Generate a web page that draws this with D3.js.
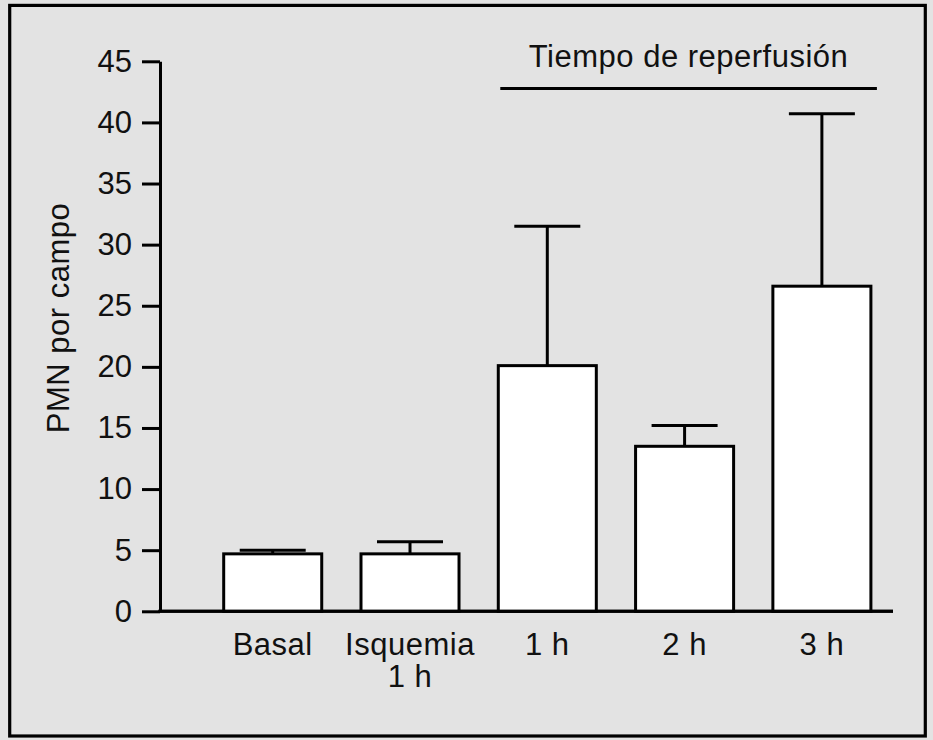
<!DOCTYPE html>
<html>
<head>
<meta charset="utf-8">
<script src="https://cdn.jsdelivr.net/npm/d3@7"></script>
<style>
  body { margin: 0; background: #e3e3e3; }
  svg { display: block; }
  text { font-family: "Liberation Sans", Arial, Helvetica, sans-serif; fill: #111; }
</style>
</head>
<body>
<div id="container"></div>
<script>
// Data
const categories = ["Basal", "Isquemia 1 h", "1 h", "2 h", "3 h"];
const categoryLines = [["Basal"], ["Isquemia", "1 h"], ["1 h"], ["2 h"], ["3 h"]];
const means = [4.7, 4.7, 20.1, 13.5, 26.6];
const errors = [0.3, 1.0, 11.4, 1.7, 14.1];
const yTicks = [0, 5, 10, 15, 20, 25, 30, 35, 40, 45];
const yLabel = "PMN por campo";
const groupLabel = "Tiempo de reperfusión";
const groupCategories = ["1 h", "3 h"];

const data = categories.map((c, i) => ({
    cat: c,
    lines: categoryLines[i],
    mean: means[i],
    err: errors[i]
}));

const W = 933, H = 740;
const fontSize = 31;

const svg = d3.select("#container").append("svg")
    .attr("width", W)
    .attr("height", H);

// background and frame
svg.append("rect")
    .attr("width", W).attr("height", H)
    .attr("fill", "#e3e3e3");
svg.append("rect")
    .attr("x", 9.7).attr("y", 5.4)
    .attr("width", 915.6).attr("height", 730.6)
    .attr("fill", "none")
    .attr("stroke", "#000")
    .attr("stroke-width", 3.2);

// scales
const axisX = 160, axisRight = 893;
const y = d3.scaleLinear().domain([0, 45]).range([611.3, 61.3]);
const x = d3.scaleBand()
    .domain(categories)
    .range([223.7, 870.9])
    .paddingInner(0.286)
    .paddingOuter(0);

// y axis
const yAxis = svg.append("g")
    .attr("transform", `translate(${axisX},0)`)
    .call(d3.axisLeft(y).tickValues(yTicks).tickSize(18).tickSizeOuter(0).tickPadding(10));
yAxis.select(".domain").attr("stroke", "#000").attr("stroke-width", 3);
yAxis.selectAll(".tick line").attr("stroke", "#000").attr("stroke-width", 3);
yAxis.selectAll(".tick text")
    .attr("font-size", fontSize)
    .attr("font-family", "Liberation Sans, Arial, sans-serif")
    .attr("fill", "#111");

// x axis baseline
svg.append("line")
    .attr("x1", axisX - 1.5).attr("x2", axisRight)
    .attr("y1", y(0)).attr("y2", y(0))
    .attr("stroke", "#000")
    .attr("stroke-width", 3);

// error bars (drawn first so the bar outline covers the stem foot)
const capW = 66;
const eb = svg.selectAll(".err")
    .data(data)
    .enter().append("g")
    .attr("class", "err");
eb.append("line")
    .attr("x1", d => x(d.cat) + x.bandwidth() / 2)
    .attr("x2", d => x(d.cat) + x.bandwidth() / 2)
    .attr("y1", d => y(d.mean))
    .attr("y2", d => y(d.mean + d.err))
    .attr("stroke", "#000")
    .attr("stroke-width", 3);
eb.append("line")
    .attr("x1", d => x(d.cat) + x.bandwidth() / 2 - capW / 2)
    .attr("x2", d => x(d.cat) + x.bandwidth() / 2 + capW / 2)
    .attr("y1", d => y(d.mean + d.err))
    .attr("y2", d => y(d.mean + d.err))
    .attr("stroke", "#000")
    .attr("stroke-width", 3);

// bars
svg.selectAll(".bar")
    .data(data)
    .enter().append("rect")
    .attr("class", "bar")
    .attr("x", d => x(d.cat))
    .attr("width", x.bandwidth())
    .attr("y", d => y(d.mean))
    .attr("height", d => y(0) - y(d.mean))
    .attr("fill", "#fff")
    .attr("stroke", "#000")
    .attr("stroke-width", 3);

// redraw baseline over bar bottoms
svg.append("line")
    .attr("x1", axisX - 1.5).attr("x2", axisRight)
    .attr("y1", y(0)).attr("y2", y(0))
    .attr("stroke", "#000")
    .attr("stroke-width", 3);

// category labels
const labels = svg.selectAll(".xlabel")
    .data(data)
    .enter().append("text")
    .attr("class", "xlabel")
    .attr("text-anchor", "middle")
    .attr("font-size", fontSize)
    .attr("letter-spacing", 0.5);
labels.selectAll("tspan")
    .data(d => d.lines.map(l => ({ l, cx: x(d.cat) + x.bandwidth() / 2 })))
    .enter().append("tspan")
    .attr("x", d => d.cx)
    .attr("y", (d, i) => 655 + i * 32)
    .text(d => d.l);

// y axis title
svg.append("text")
    .attr("transform", "rotate(-90)")
    .attr("x", -318)
    .attr("y", 69)
    .attr("text-anchor", "middle")
    .attr("font-size", fontSize)
    .attr("letter-spacing", 0.5)
    .text(yLabel);

// reperfusion bracket
const gx1 = x(groupCategories[0]) + 2;
const gx2 = x(groupCategories[1]) + x.bandwidth() + 6;
svg.append("line")
    .attr("x1", gx1).attr("x2", gx2)
    .attr("y1", 88.5).attr("y2", 88.5)
    .attr("stroke", "#000")
    .attr("stroke-width", 3);
svg.append("text")
    .attr("x", (gx1 + gx2) / 2)
    .attr("y", 66.5)
    .attr("text-anchor", "middle")
    .attr("font-size", fontSize)
    .attr("letter-spacing", 0.5)
    .text(groupLabel);
</script>
</body>
</html>
